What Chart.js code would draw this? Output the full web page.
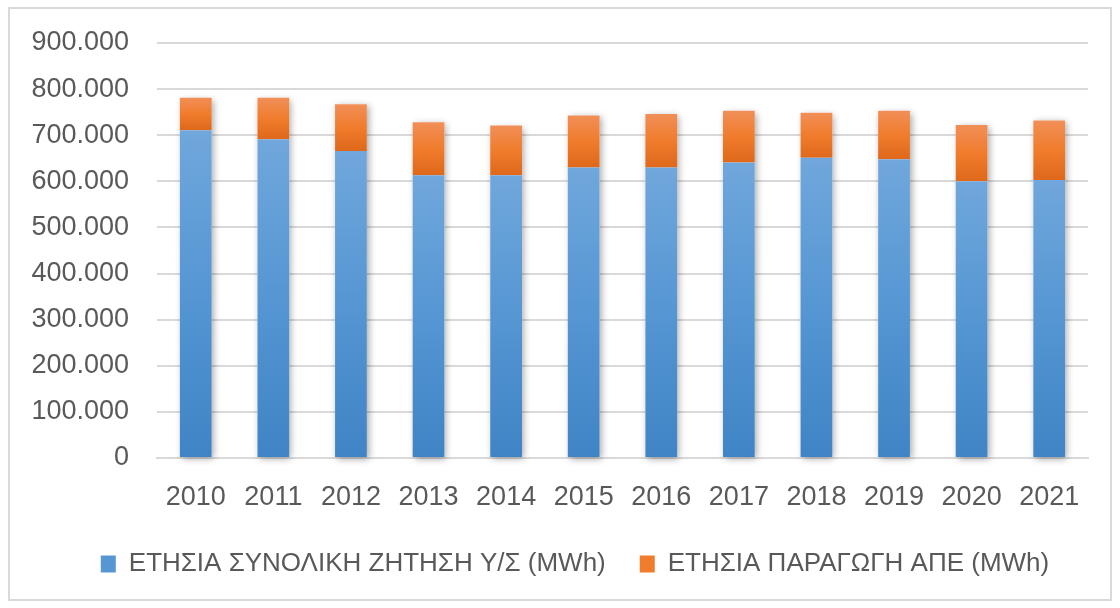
<!DOCTYPE html>
<html>
<head>
<meta charset="utf-8">
<script src="https://cdn.jsdelivr.net/npm/chart.js@4"></script>
<style>
  body { margin: 0; background: #fff; }
  #box { position: absolute; left: 8px; top: 7px; width: 1100px; height: 590px; border: 2px solid #d9d9d9; }
</style>
</head>
<body>
<div id="box"><canvas id="chart"></canvas></div>
<script>
const years = ['2010', '2011', '2012', '2013', '2014', '2015', '2016', '2017', '2018', '2019', '2020', '2021'];
// MWh
const demand = [711000, 691000, 666000, 613000, 613000, 630000, 630000, 641000, 651000, 648000, 600000, 603000];
const res = [70000, 90000, 101000, 115000, 108000, 113000, 116000, 112000, 98000, 105000, 122000, 129000];
const labelDemand = 'ΕΤΗΣΙΑ ΣΥΝΟΛΙΚΗ ΖΗΤΗΣΗ Υ/Σ (MWh)';
const labelRes = 'ΕΤΗΣΙΑ ΠΑΡΑΓΩΓΗ ΑΠΕ (MWh)';

const textColor = '#595959';
const fontFamily = '"Liberation Sans", Arial, sans-serif';

function fmt(v) {
  return String(v).replace(/\B(?=(\d{3})+(?!\d))/g, '.');
}

// per-segment vertical gradient, like the office chart fill
function segFill(stops, lowArr, highArr) {
  return function (ctx) {
    const chart = ctx.chart;
    const y = chart.scales.y;
    if (!chart.chartArea || !y || ctx.dataIndex === undefined) return stops[1];
    const i = ctx.dataIndex;
    const top = y.getPixelForValue(highArr(i));
    const bot = y.getPixelForValue(lowArr(i));
    if (!isFinite(top) || !isFinite(bot) || top === bot) return stops[1];
    const g = chart.ctx.createLinearGradient(0, top, 0, bot);
    g.addColorStop(0, stops[0]);
    g.addColorStop(0.5, stops[1]);
    g.addColorStop(1, stops[2]);
    return g;
  };
}

const blueFill = segFill(['#70a7dc', '#5596d3', '#3f84c5'], i => 0, i => demand[i]);
const orangeFill = segFill(['#f18f58', '#f07c2c', '#df681b'], i => demand[i], i => demand[i] + res[i]);

const shadowPlugin = {
  id: 'barShadow',
  beforeDatasetsDraw(chart) {
    const m0 = chart.getDatasetMeta(0).data;
    const m1 = chart.getDatasetMeta(1).data;
    const c = chart.ctx;
    c.save();
    c.shadowColor = 'rgba(0,0,0,0.35)';
    c.shadowBlur = 7;
    c.shadowOffsetX = 2;
    c.shadowOffsetY = 2;
    c.fillStyle = '#ffffff';
    m0.forEach((b, i) => {
      const top = m1[i].y;
      const bot = b.base;
      c.fillRect(b.x - b.width / 2, top, b.width, bot - top);
    });
    c.restore();
  }
};

// legend sits a bit right of the canvas centre in the original
const legendShift = {
  id: 'legendShift',
  afterLayout(chart) {
    chart.legend.left += 26;
    chart.legend.right += 26;
    chart.legend.top -= 1;
    chart.legend.bottom -= 1;
  }
};

new Chart(document.getElementById('chart'), {
  type: 'bar',
  data: {
    labels: years,
    datasets: [
      {
        label: labelDemand,
        data: demand,
        backgroundColor: blueFill,
        borderWidth: 0
      },
      {
        label: labelRes,
        data: res,
        backgroundColor: orangeFill,
        borderWidth: 0
      }
    ]
  },
  options: {
    responsive: true,
    maintainAspectRatio: false,
    animation: false,
    layout: { padding: { left: 0, right: 22, top: 34, bottom: 11 } },
    datasets: {
      bar: { categoryPercentage: 1, barPercentage: 0.41 }
    },
    plugins: {
      tooltip: { enabled: false },
      legend: {
        position: 'bottom',
        labels: {
          color: textColor,
          font: { family: fontFamily, size: 26 },
          boxWidth: 15,
          boxHeight: 17,
          padding: 34,
          generateLabels(chart) {
            return chart.data.datasets.map((ds, i) => ({
              text: ds.label,
              fillStyle: i === 0 ? '#5596d3' : '#f07c2c',
              strokeStyle: i === 0 ? '#5596d3' : '#f07c2c',
              lineWidth: 0,
              fontColor: textColor,
              datasetIndex: i
            }));
          }
        }
      }
    },
    scales: {
      x: {
        stacked: true,
        grid: { display: false, drawTicks: false },
        border: { display: true, color: '#d9d9d9', width: 2 },
        ticks: { color: textColor, font: { family: fontFamily, size: 27 }, padding: 23 },
        afterFit(scale) { scale.height = 60; }
      },
      y: {
        stacked: true,
        min: 0,
        max: 900000,
        grid: { color: '#d9d9d9', lineWidth: 2, drawTicks: false },
        border: { display: false },
        ticks: {
          stepSize: 100000,
          color: textColor,
          font: { family: fontFamily, size: 27 },
          padding: 28,
          callback: v => fmt(v)
        },
        afterFit(scale) {
          scale.width = 147;
          scale.paddingTop = 0;
          scale.paddingBottom = 0;
        }
      }
    }
  },
  plugins: [shadowPlugin, legendShift]
});
</script>
</body>
</html>
